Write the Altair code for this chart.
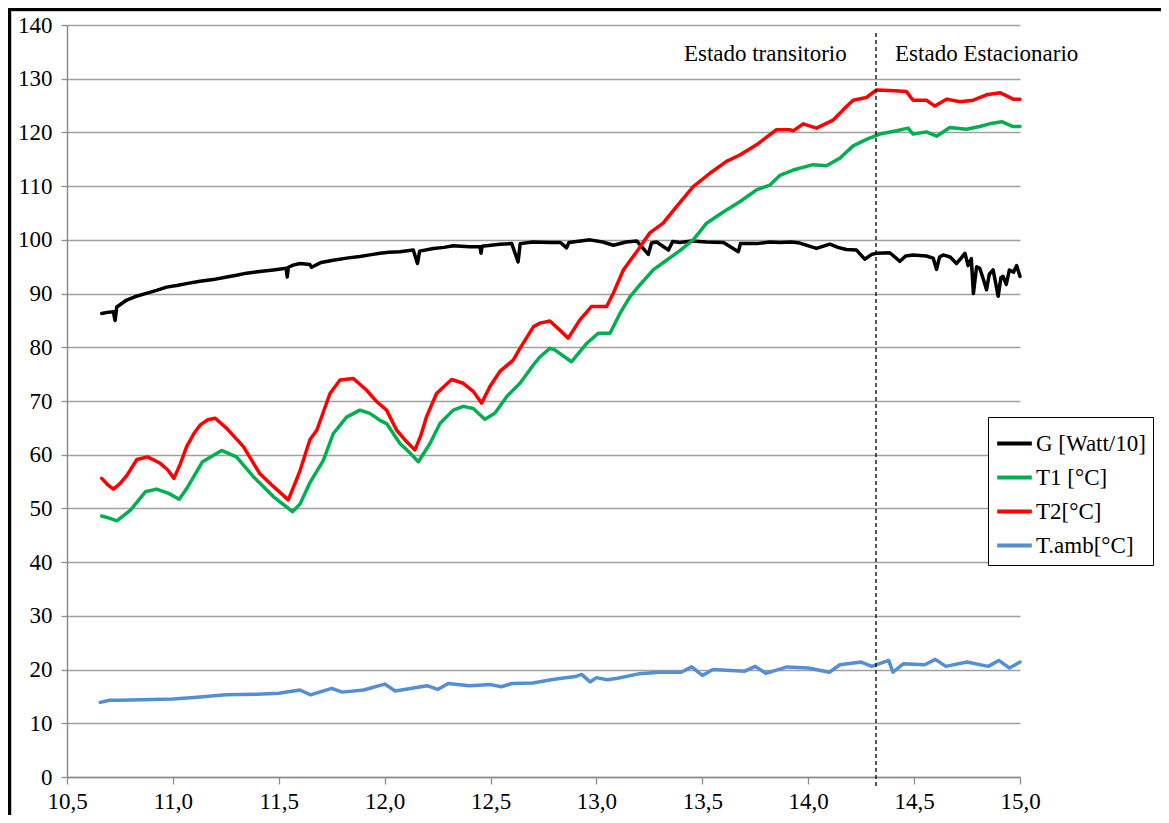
import altair as alt
import pandas as pd

# ---------------- data ----------------
g_t = [10.664, 10.69, 10.719, 10.727, 10.735, 10.782, 10.82, 10.87, 10.923, 10.97, 11.018, 11.07,
       11.128, 11.19, 11.254, 11.30, 11.348, 11.41, 11.474, 11.535, 11.54, 11.545, 11.568, 11.60,
       11.647, 11.655, 11.70, 11.757, 11.82, 11.883, 11.93, 11.978, 12.02, 12.072, 12.135, 12.155,
       12.165, 12.23, 12.28, 12.324, 12.40, 12.45, 12.455, 12.46, 12.544, 12.60, 12.63, 12.64,
       12.70, 12.78, 12.83, 12.859, 12.87, 12.97, 13.03, 13.08, 13.14, 13.19, 13.245, 13.26,
       13.284, 13.34, 13.36, 13.394, 13.45, 13.52, 13.60, 13.67, 13.68, 13.756, 13.82, 13.866,
       13.92, 13.96, 14.039, 14.102, 14.14, 14.18, 14.228, 14.267, 14.30, 14.322, 14.385, 14.433,
       14.46, 14.495, 14.558, 14.59, 14.606, 14.62, 14.637, 14.67, 14.70, 14.72, 14.74, 14.755,
       14.77, 14.78, 14.795, 14.81, 14.83, 14.842, 14.855, 14.873, 14.885, 14.897, 14.91, 14.92,
       14.935, 14.95, 14.97, 14.984, 15.0]
g_v = [86.3, 86.5, 86.6, 85.0, 87.5, 88.8, 89.4, 90.0, 90.6, 91.2, 91.5, 91.9,
       92.3, 92.6, 93.1, 93.4, 93.8, 94.1, 94.4, 94.7, 93.1, 94.9, 95.3, 95.6,
       95.4, 94.9, 95.8, 96.2, 96.6, 96.9, 97.2, 97.5, 97.7, 97.8, 98.1, 95.6,
       97.9, 98.4, 98.6, 98.9, 98.7, 98.7, 97.5, 98.8, 99.2, 99.3, 95.9, 99.3,
       99.6, 99.5, 99.5, 98.5, 99.5, 100.0, 99.6, 99.0, 99.6, 99.8, 97.3, 99.4,
       99.6, 98.1, 99.7, 99.5, 99.8, 99.6, 99.5, 97.8, 99.3, 99.3, 99.6, 99.5,
       99.6, 99.4, 98.4, 99.2, 98.6, 98.2, 98.1, 96.4, 97.3, 97.5, 97.6, 96.0,
       97.0, 97.2, 97.0, 96.6, 94.5, 96.8, 97.2, 96.8, 95.6, 96.5, 97.5, 95.2,
       96.5, 90.0, 95.0, 94.7, 92.3, 90.7, 93.6, 94.4, 92.0, 89.5, 93.0, 93.2,
       91.7, 94.4, 94.0, 95.2, 93.2]

t1_t = [10.664, 10.70, 10.735, 10.8, 10.87, 10.923, 10.98, 11.03, 11.07, 11.14, 11.23, 11.3,
        11.38, 11.474, 11.565, 11.6, 11.647, 11.71, 11.757, 11.82, 11.883, 11.93, 11.978, 12.009,
        12.072, 12.12, 12.159, 12.214, 12.261, 12.324, 12.371, 12.418, 12.473, 12.52, 12.576, 12.639,
        12.702, 12.733, 12.78, 12.80, 12.882, 12.953, 13.008, 13.064, 13.111, 13.158, 13.205, 13.268,
        13.331, 13.394, 13.457, 13.52, 13.599, 13.677, 13.756, 13.819, 13.866, 13.929, 14.023, 14.086,
        14.149, 14.212, 14.275, 14.338, 14.417, 14.472, 14.495, 14.558, 14.606, 14.669, 14.747, 14.81,
        14.857, 14.913, 14.968, 15.0]
t1_v = [48.6, 48.2, 47.7, 49.7, 53.1, 53.6, 52.8, 51.7, 54.0, 58.7, 60.8, 59.6,
        55.9, 52.2, 49.4, 50.8, 54.8, 58.9, 63.9, 67.0, 68.3, 67.7, 66.4, 65.8,
        62.1, 60.3, 58.7, 62.1, 65.8, 68.3, 69.0, 68.6, 66.6, 67.7, 70.8, 73.3,
        76.7, 78.2, 79.8, 79.6, 77.3, 80.7, 82.6, 82.6, 86.3, 89.4, 91.6, 94.4,
        96.2, 98.0, 100.0, 103.1, 105.2, 107.1, 109.3, 110.2, 112.0, 113.0, 114.0, 113.8,
        115.2, 117.5, 118.7, 119.7, 120.3, 120.8, 119.7, 120.1, 119.3, 120.9, 120.6, 121.1,
        121.6, 122.0, 121.1, 121.1]

t2_t = [10.664, 10.69, 10.719, 10.75, 10.782, 10.83, 10.88, 10.94, 10.975, 11.005, 11.035, 11.065,
        11.10, 11.128, 11.165, 11.2, 11.254, 11.333, 11.41, 11.474, 11.545, 11.575, 11.6, 11.647,
        11.68, 11.742, 11.789, 11.852, 11.915, 11.962, 12.009, 12.056, 12.104, 12.143, 12.17, 12.198,
        12.245, 12.316, 12.371, 12.418, 12.458, 12.497, 12.544, 12.607, 12.639, 12.702, 12.733, 12.78,
        12.827, 12.867, 12.922, 12.977, 13.048, 13.08, 13.127, 13.19, 13.252, 13.315, 13.378, 13.457,
        13.536, 13.614, 13.677, 13.756, 13.85, 13.913, 13.929, 13.976, 14.039, 14.118, 14.165, 14.212,
        14.275, 14.322, 14.385, 14.464, 14.495, 14.558, 14.598, 14.653, 14.716, 14.779, 14.842, 14.905,
        14.968, 15.0]
t2_v = [55.6, 54.5, 53.6, 54.6, 56.1, 59.1, 59.6, 58.4, 57.2, 55.6, 58.3, 61.5,
        64.0, 65.5, 66.5, 66.8, 64.9, 61.5, 56.5, 54.1, 51.6, 54.5, 57.0, 62.8,
        64.6, 71.4, 73.9, 74.2, 72.0, 69.9, 68.3, 64.6, 62.4, 60.9, 63.5, 67.1,
        71.4, 74.0, 73.3, 71.8, 69.6, 72.7, 75.5, 77.6, 79.8, 83.8, 84.5, 84.9,
        83.2, 81.7, 85.1, 87.6, 87.6, 90.1, 94.4, 97.8, 101.3, 103.1, 106.2, 109.9,
        112.4, 114.6, 115.8, 117.7, 120.5, 120.5, 120.3, 121.6, 120.8, 122.3, 124.2, 126.0,
        126.5, 127.9, 127.8, 127.6, 126.0, 126.0, 124.9, 126.2, 125.7, 126.0, 127.0, 127.4,
        126.2, 126.2]

ta_t = [10.657, 10.70, 10.75, 10.85, 11.0, 11.1, 11.25, 11.4, 11.5, 11.6, 11.65, 11.75, 11.8,
        11.9, 12.0, 12.05, 12.2, 12.25, 12.3, 12.4, 12.5, 12.55, 12.6, 12.7, 12.8, 12.9, 12.93,
        12.97, 13.0, 13.05, 13.1, 13.2, 13.3, 13.4, 13.45, 13.5, 13.55, 13.7, 13.75, 13.8, 13.9,
        14.0, 14.1, 14.15, 14.25, 14.3, 14.38, 14.4, 14.45, 14.55, 14.6, 14.65, 14.75, 14.85,
        14.9, 14.95, 15.0]
ta_v = [13.9, 14.3, 14.3, 14.4, 14.5, 14.8, 15.3, 15.4, 15.6, 16.2, 15.3, 16.5, 15.8,
        16.2, 17.3, 16.0, 17.0, 16.3, 17.4, 17.0, 17.2, 16.8, 17.4, 17.5, 18.2, 18.7, 19.1,
        17.7, 18.5, 18.1, 18.4, 19.2, 19.5, 19.5, 20.5, 18.9, 20.0, 19.7, 20.6, 19.3, 20.5,
        20.3, 19.5, 20.9, 21.4, 20.6, 21.7, 19.5, 21.1, 20.9, 21.9, 20.6, 21.4, 20.6,
        21.7, 20.3, 21.4]

series_names = ["G [Watt/10]", "T1 [°C]", "T2[°C]", "T.amb[°C]"]
series_colors = ["#000000", "#00B050", "#FF0000", "#558ED5"]

x_ticks = [10.5, 11.0, 11.5, 12.0, 12.5, 13.0, 13.5, 14.0, 14.5, 15.0]
y_ticks = list(range(0, 141, 10))

divider_t = [14.32]
divider_top = [138.5]
divider_bottom = [-2.0]

notes = ["Estado transitorio", "Estado Estacionario"]
notes_t = [14.182, 14.41]
notes_v = [133.3, 133.3]
notes_align = ["right", "left"]

# ---------------- build tables ----------------
rows = []
for name, ts, vs in zip(series_names, [g_t, t1_t, t2_t, ta_t], [g_v, t1_v, t2_v, ta_v]):
    for i, (t, v) in enumerate(zip(ts, vs)):
        rows.append({"serie": name, "t": t, "v": v, "i": i})
df = pd.DataFrame(rows)

df_div = pd.DataFrame({"t": divider_t, "top": divider_top, "bot": divider_bottom})
df_notes = pd.DataFrame({"txt": notes, "t": notes_t, "v": notes_v, "al": notes_align})

FONT = "Liberation Serif"
W, H = 953, 752

xscale = alt.Scale(domain=[10.5, 15.0], nice=False, zero=False)
yscale = alt.Scale(domain=[0, 140], nice=False)

lines = alt.Chart(df).mark_line(strokeWidth=3.5, strokeJoin="round", strokeCap="round").encode(
    x=alt.X("t:Q", scale=xscale,
            axis=alt.Axis(values=x_ticks, title=None, grid=False, tickSize=7, labelPadding=6,
                          labelExpr="replace(format(datum.value, '.1f'), '.', ',')",
                          labelOverlap=False, labelFlush=False)),
    y=alt.Y("v:Q", scale=yscale,
            axis=alt.Axis(values=y_ticks, title=None, grid=True, tickSize=6, labelPadding=9,
                          labelOverlap=False, labelFlush=False)),
    color=alt.Color("serie:N",
                    scale=alt.Scale(domain=series_names, range=series_colors),
                    legend=alt.Legend(title=None, orient="none", legendX=921, legendY=392,
                                      symbolType="stroke", symbolStrokeWidth=4, symbolSize=1200,
                                      labelFont=FONT, labelFontSize=23, labelColor="black",
                                      labelOffset=2, rowPadding=2, padding=7,
                                      strokeColor="black", fillColor="white",
                                      labelLimit=300)),
    order="i:Q",
    detail="serie:N",
)

divider = alt.Chart(df_div).mark_rule(color="black", strokeWidth=1.3, strokeDash=[4, 3]).encode(
    x="t:Q", y="top:Q", y2="bot:Q"
)

note_right = alt.Chart(df_notes[df_notes.al == "right"]).mark_text(
    align="right", baseline="alphabetic", font=FONT, fontSize=23, color="black"
).encode(x="t:Q", y="v:Q", text="txt:N")
note_left = alt.Chart(df_notes[df_notes.al == "left"]).mark_text(
    align="left", baseline="alphabetic", font=FONT, fontSize=23, color="black"
).encode(x="t:Q", y="v:Q", text="txt:N")

frame = alt.Chart(df_div).mark_rect(fill=None, stroke="#a0a0a0", strokeWidth=1.2).encode(
    x=alt.value(-56), x2=alt.value(1099), y=alt.value(-14), y2=alt.value(796)
)
top_edge = alt.Chart(df_div).mark_rule(color="black", strokeWidth=3).encode(
    x=alt.value(-59), x2=alt.value(1094), y=alt.value(-15.5)
)
left_edge = alt.Chart(df_div).mark_rule(color="black", strokeWidth=3).encode(
    x=alt.value(-57.5), y=alt.value(-17), y2=alt.value(790)
)

chart = alt.layer(frame, top_edge, left_edge, lines, divider, note_right, note_left).properties(
    width=W, height=H,
    autosize=alt.AutoSizeParams(type="none"),
    padding={"left": 59, "top": 17, "right": 141, "bottom": 38},
    background="white",
).configure_view(stroke=None).configure_axis(
    labelFont=FONT, labelFontSize=23, labelColor="black",
    gridColor="#a0a0a0", gridWidth=1.3,
    domainColor="#8c8c8c", domainWidth=1.5,
    tickColor="#8c8c8c", tickWidth=1.3,
)

chart.save("out.html", embed_options={"renderer": "svg", "actions": False})
